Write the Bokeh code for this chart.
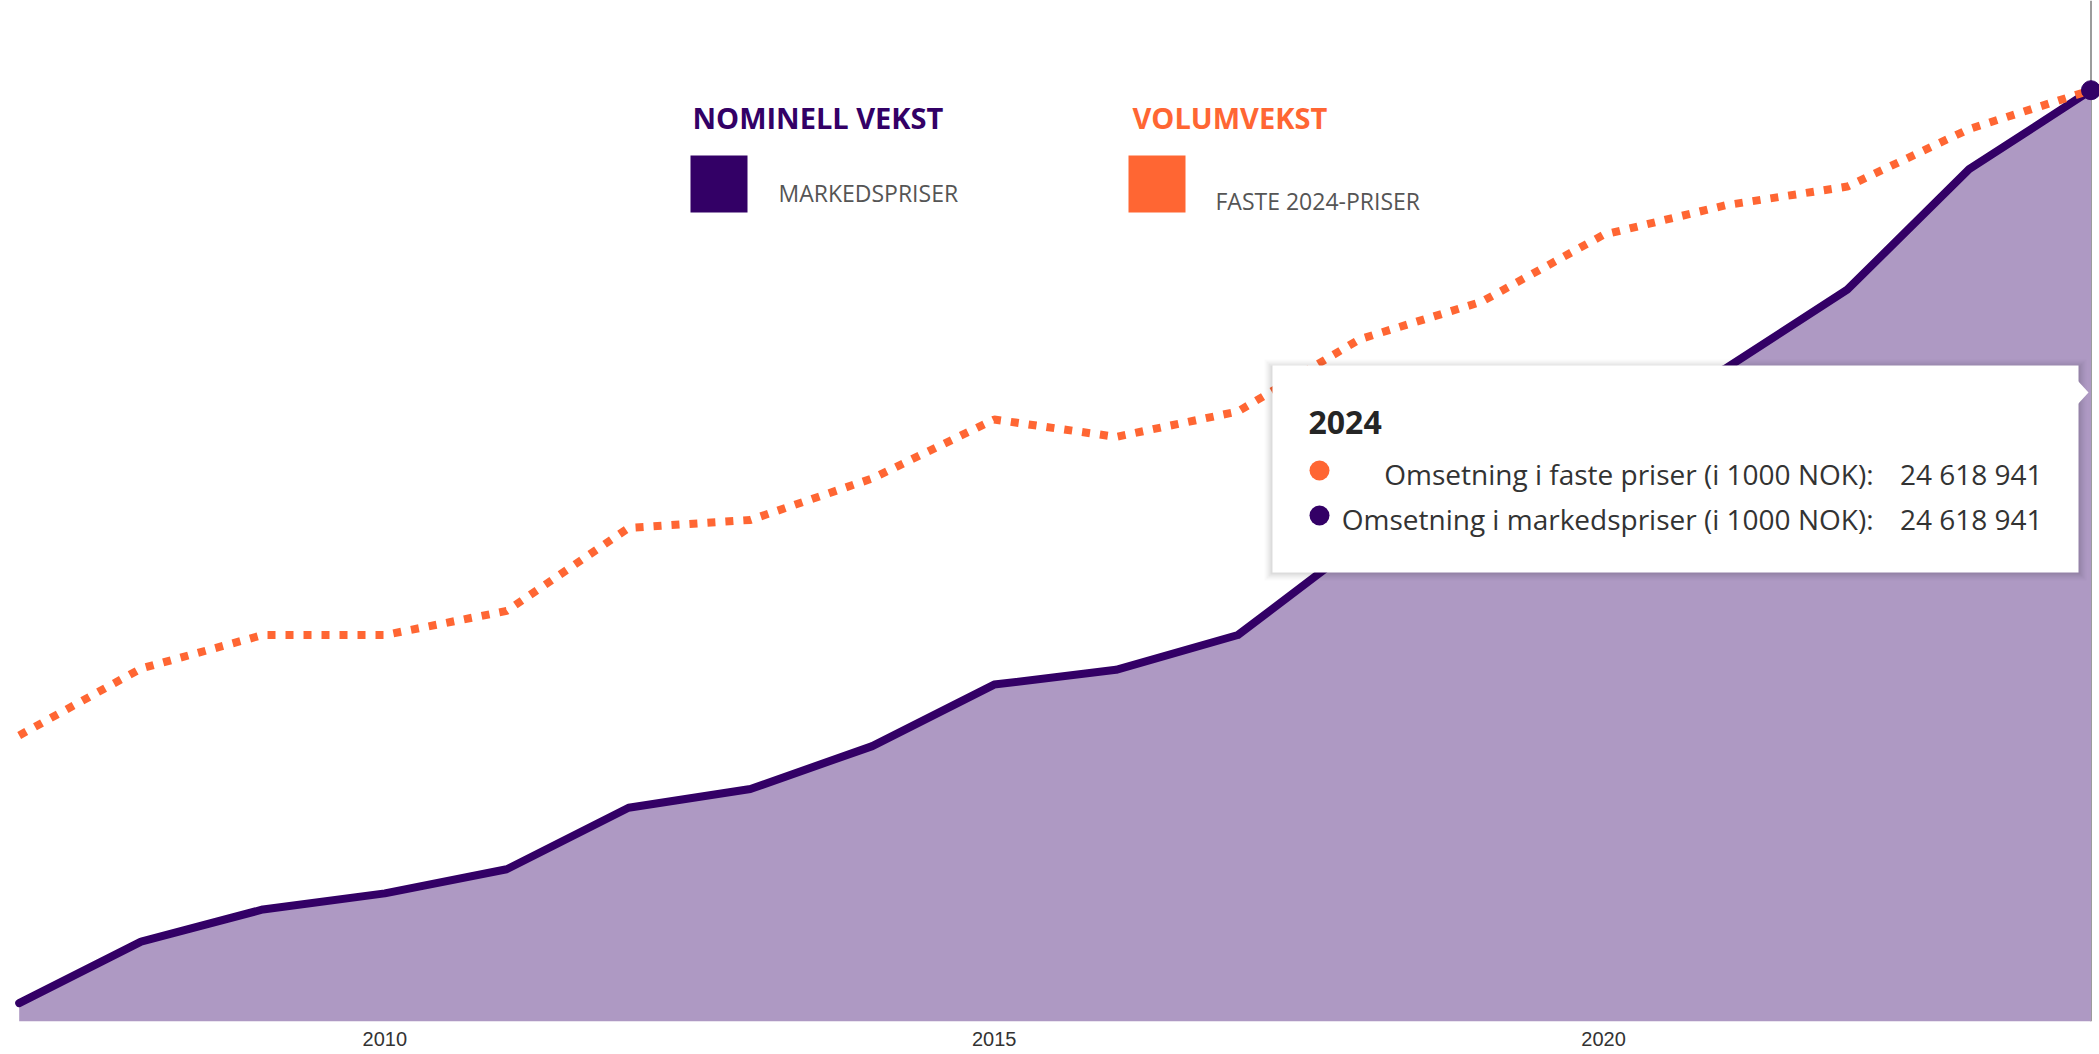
from bokeh.plotting import figure
from bokeh.models import Range1d, FixedTicker, Label, BoxAnnotation, PolyAnnotation, Span
from bokeh.embed import file_html
from bokeh.resources import INLINE

# ---------------- data (1000 NOK) ----------------
years = list(range(2007, 2025))
markedspriser = [8334000, 9433000, 10006000, 10292000, 10722000, 11820000,
                 12155000, 12919000, 14017000, 14280000, 14901000, 16548000,
                 17384000, 18626000, 19652000, 21061000, 23210000, 24618941]
faste_priser = [13110000, 14304000, 14901000, 14901000, 15331000, 16811000,
                16954000, 17694000, 18745000, 18435000, 18888000, 20178000,
                20846000, 22040000, 22566000, 22900000, 23927000, 24618941]
tick_years = [2010, 2015, 2020]
series_titles = ["NOMINELL VEKST", "VOLUMVEKST"]
series_items = ["MARKEDSPRISER", "FASTE 2024-PRISER"]
tooltip_labels = ["Omsetning i faste priser (i 1000 NOK):",
                  "Omsetning i markedspriser (i 1000 NOK):"]

PURPLE = "#330066"
AREA = "#AE99C3"
ORANGE = "#FF6633"

W, H = 2099, 1054
BORDER_B = 33
FRAME_H = H - BORDER_B
Y0, Y1 = 8_007_000, 26_219_000

p = figure(width=W, height=H, output_backend="svg", toolbar_location=None,
           x_range=Range1d(2006.8466, 2024.0697), y_range=Range1d(Y0, Y1),
           y_axis_location=None, min_border_left=0, min_border_right=0,
           min_border_top=0, min_border_bottom=BORDER_B)
p.outline_line_color = None
p.grid.visible = False
p.background_fill_color = "white"
p.border_fill_color = "white"

ax = p.xaxis[0]
ax.ticker = FixedTicker(ticks=tick_years)
ax.axis_line_color = None
ax.major_tick_line_color = None
ax.minor_tick_line_color = None
ax.major_tick_out = 0
ax.major_tick_in = 0
ax.major_label_standoff = 10
ax.major_label_text_font = "Liberation Sans"
ax.major_label_text_font_size = "20px"
ax.major_label_text_color = "#333333"

# crosshair
p.add_layout(Span(location=years[-1], dimension="height", line_color="#9c9c9c",
                  line_width=2, level="underlay"))

p.varea(x=years, y1=[Y0] * len(years), y2=markedspriser, fill_color=AREA)
p.line(years, markedspriser, line_color=PURPLE, line_width=8, line_join="round", line_cap="round")
p.line(years, faste_priser, line_color=ORANGE, line_width=8, line_dash="8 10", line_cap="butt")
p.scatter([years[-1]], [markedspriser[-1]], size=19, color=PURPLE)


def sx(px):
    return px


def sy(py):
    return FRAME_H - py


def box(l, r, t, b, color, alpha=1.0, radius=0):
    p.add_layout(BoxAnnotation(left=sx(l), right=sx(r), top=sy(t), bottom=sy(b),
                               left_units="screen", right_units="screen",
                               top_units="screen", bottom_units="screen",
                               fill_color=color, fill_alpha=alpha, line_color=None,
                               border_radius=radius, level="overlay"))


def label(x, y, text, size, color, align="left", style="normal", font="Open Sans"):
    p.add_layout(Label(x=sx(x), y=sy(y), x_units="screen", y_units="screen", text=text,
                       text_font=font, text_font_size=size, text_color=color,
                       text_align=align, text_baseline="middle", text_font_style=style,
                       level="overlay"))


# legend
label(692, 117, series_titles[0], "29px", PURPLE, style="bold")
box(690, 747, 155, 212, PURPLE)
label(778, 192, series_items[0], "23px", "#555555")
label(1132, 117, series_titles[1], "29px", ORANGE, style="bold")
box(1128, 1185, 155, 212, ORANGE)
label(1215, 200, series_items[1], "23px", "#555555")

# tooltip
for i, a in enumerate([0.02, 0.03, 0.04, 0.05]):
    d = 8 - 2 * i
    box(1272 - d, 2078 + d, 365 - d + 2, 572 + d, "#000000", a)
box(1272, 2078, 365, 572, "white")
p.add_layout(PolyAnnotation(xs=[sx(2077), sx(2088), sx(2077)], ys=[sy(380), sy(392), sy(404)],
                            xs_units="screen", ys_units="screen", fill_color="white",
                            fill_alpha=1, line_color=None, level="overlay"))

label(1308, 422, str(years[-1]), "32px", "#252525", style="bold")


def fmt(v):
    return f"{v:,}".replace(",", " ")


rows = [(470, ORANGE, tooltip_labels[0], faste_priser[-1]),
        (515, PURPLE, tooltip_labels[1], markedspriser[-1])]
for y, col, txt, v in rows:
    box(1309, 1329, y - 10, y + 10, col, 1.0, 10)
    label(1873, y + 3, txt, "28px", "#333333", align="right")
    label(2042, y + 3, fmt(v), "28px", "#333333", align="right")

open("out.html", "w").write(file_html(p, INLINE))
